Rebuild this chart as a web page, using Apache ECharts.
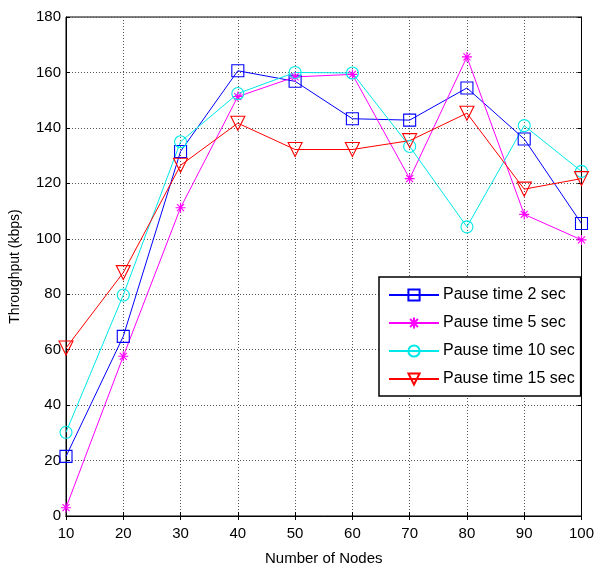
<!DOCTYPE html>
<html><head><meta charset="utf-8">
<script src="https://cdn.jsdelivr.net/npm/echarts@6/dist/echarts.min.js"></script>
<style>html,body{margin:0;padding:0;background:#fff}#c{width:597px;height:571px}</style>
</head><body><div id="c"></div>
<script>
const nodes = [10,20,30,40,50,60,70,80,90,100];
const pause2  = [21.5,64.8,131.5,160.6,156.8,143.3,142.8,154.4,136.0,105.5];
const pause5  = [3.0,57.6,111.2,151.3,158.4,159.3,121.7,165.6,108.8,99.6];
const pause10 = [30.2,79.7,135.0,152.4,160.0,159.8,133.3,104.3,140.8,124.3];
const pause15 = [60.6,87.8,126.5,141.7,132.2,132.2,135.4,145.3,117.9,121.7];
const seriesNames = ['Pause time 2 sec','Pause time 5 sec','Pause time 10 sec','Pause time 15 sec'];
const yTicks = {min:0,max:180,interval:20};
const xTicks = {min:10,max:100,interval:10};

const FN = '"Liberation Sans",Arial,sans-serif';
const star = 'path://M5,0L5,10M0,5L10,5M1.5,1.5L8.5,8.5M8.5,1.5L1.5,8.5';
const tri = 'path://M0,0L10,0L5,8.66Z';

function mk(name, data, color, symbol, size) {
  return {
    name, type:'line', data: nodes.map((x,i)=>[x,data[i]]),
    symbol, symbolSize:size, showAllSymbol:true,
    lineStyle:{color, width:1},
    itemStyle:{color:'rgba(255,255,255,0)', borderColor:color, borderWidth:1.1},
    emphasis:{disabled:true}, z: 3
  };
}

const chart = echarts.init(document.getElementById('c'), null, {renderer:'canvas'});
const axisLine = {show:true, lineStyle:{color:'#000', width:1}};
chart.setOption({
  animation:false,
  backgroundColor:'#fff',
  grid:{left:62, right:14, top:17, bottom:51, show:true, borderColor:'#000', borderWidth:1},
  legend:{
    orient:'vertical', left:379, top:277,
    data: seriesNames,
    backgroundColor:'#fff', borderColor:'#000', borderWidth:1.5,
    padding:[10,6,9,9], itemWidth:50, itemHeight:14, itemGap:12,
    textStyle:{fontFamily:FN, fontSize:16, color:'#000', padding:[0,0,0,-1]},
    selectedMode:false
  },
  xAxis:[{
    type:'value', min:xTicks.min, max:xTicks.max, interval:xTicks.interval,
    name:'Number of Nodes', nameLocation:'middle', nameGap:35,
    nameTextStyle:{fontFamily:FN, fontSize:15, color:'#000'},
    axisLine, axisTick:{show:true, inside:true, length:4, lineStyle:{color:'#000'}},
    axisLabel:{fontFamily:FN, fontSize:15, color:'#000', margin:10},
    splitLine:{show:true, lineStyle:{color:'#555', type:[1,2], width:1}}
  },{
    type:'value', position:'top', min:xTicks.min, max:xTicks.max, interval:xTicks.interval,
    axisLine, axisTick:{show:true, inside:true, length:4, lineStyle:{color:'#000'}},
    axisLabel:{show:false}, splitLine:{show:false}
  }],
  yAxis:[{
    type:'value', min:yTicks.min, max:yTicks.max, interval:yTicks.interval,
    name:'Throughput (kbps)', nameLocation:'middle', nameGap:44,
    nameTextStyle:{fontFamily:FN, fontSize:14, color:'#000'},
    axisLine, axisTick:{show:true, inside:true, length:4, lineStyle:{color:'#000'}},
    axisLabel:{fontFamily:FN, fontSize:15, color:'#000', margin:5},
    splitLine:{show:true, lineStyle:{color:'#555', type:[1,2], width:1}}
  },{
    type:'value', position:'right', min:yTicks.min, max:yTicks.max, interval:yTicks.interval,
    axisLine, axisTick:{show:true, inside:true, length:4, lineStyle:{color:'#000'}},
    axisLabel:{show:false}, splitLine:{show:false}
  }],
  series:[
    mk(seriesNames[0], pause2, '#0000ff', 'rect', 12),
    mk(seriesNames[1], pause5, '#ff00ff', star, 10),
    mk(seriesNames[2], pause10, '#00e8e8', 'circle', 12),
    mk(seriesNames[3], pause15, '#ff0000', tri, 14)
  ]
});
</script></body></html>
